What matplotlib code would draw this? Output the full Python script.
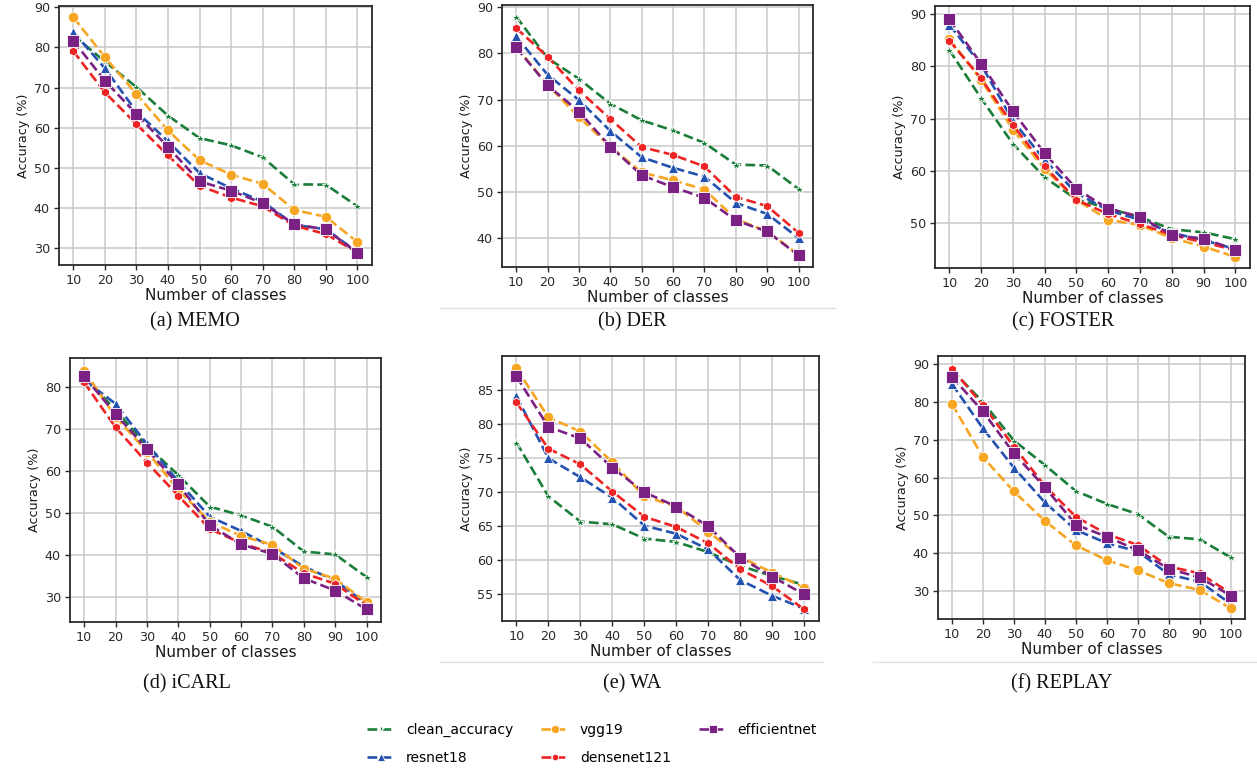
import matplotlib.pyplot as plt
from matplotlib.lines import Line2D

W, H = 1257, 773

classes = [10, 20, 30, 40, 50, 60, 70, 80, 90, 100]

models = ['clean_accuracy', 'resnet18', 'vgg19', 'densenet121', 'efficientnet']
colors = ['#1b7d3a', '#2452b0', '#f6a623', '#ee2424', '#7b2183']
markers = ['*', '^', 'o', 'h', 's']
msizes = [6.5, 6.5, 7.5, 6.5, 8.0]

# (a) MEMO
memo_clean = [83.0, 76.5, 70.1, 63.0, 57.4, 55.6, 52.6, 45.9, 45.8, 40.4]
memo_resnet = [83.9, 74.8, 64.0, 56.6, 48.7, 44.9, 41.6, 35.8, 34.7, 29.0]
memo_vgg = [87.5, 77.6, 68.4, 59.3, 51.9, 48.3, 46.0, 39.5, 37.8, 31.5]
memo_dense = [79.1, 68.8, 60.9, 53.1, 45.5, 42.6, 40.4, 35.6, 33.5, 28.9]
memo_eff = [81.7, 71.7, 63.4, 55.2, 46.6, 44.3, 41.2, 35.9, 34.7, 28.8]

# (b) DER
der_clean = [88.0, 79.0, 74.5, 69.1, 65.5, 63.3, 60.6, 55.9, 55.7, 50.6]
der_resnet = [83.7, 75.4, 69.9, 63.2, 57.5, 55.2, 53.3, 47.6, 45.2, 40.0]
der_vgg = [81.5, 73.2, 66.2, 59.8, 54.2, 52.5, 50.5, 44.1, 41.4, 36.4]
der_dense = [85.5, 79.3, 72.0, 65.8, 59.7, 58.0, 55.5, 48.9, 46.9, 41.1]
der_eff = [81.3, 73.1, 67.4, 59.8, 53.6, 51.0, 48.7, 43.8, 41.4, 36.2]

# (c) FOSTER
foster_clean = [83.1, 73.9, 65.2, 58.8, 54.6, 52.9, 51.2, 48.9, 48.3, 47.0]
foster_resnet = [87.9, 80.3, 69.6, 62.1, 55.8, 52.5, 50.7, 48.2, 46.8, 45.1]
foster_vgg = [85.2, 77.4, 67.9, 60.4, 54.5, 50.7, 49.7, 47.2, 45.6, 43.6]
foster_dense = [84.9, 77.7, 68.8, 60.9, 54.5, 51.8, 49.9, 47.8, 46.4, 44.9]
foster_eff = [89.0, 80.5, 71.4, 63.4, 56.6, 52.8, 51.3, 47.8, 47.1, 45.0]

# (d) iCARL
icarl_clean = [82.5, 74.5, 66.0, 59.0, 51.5, 49.4, 46.7, 40.8, 40.1, 34.7]
icarl_resnet = [81.7, 76.0, 66.4, 57.5, 49.1, 45.7, 41.8, 37.2, 33.9, 28.3]
icarl_vgg = [83.9, 72.9, 64.6, 55.5, 47.9, 44.5, 42.4, 36.7, 34.3, 28.7]
icarl_dense = [81.1, 70.4, 62.0, 54.1, 46.2, 42.8, 40.4, 35.6, 33.1, 27.9]
icarl_eff = [82.5, 73.6, 65.2, 56.8, 47.1, 42.5, 40.2, 34.4, 31.5, 27.0]

# (e) WA
wa_clean = [77.3, 69.4, 65.7, 65.3, 63.2, 62.7, 61.2, 59.2, 57.7, 56.4]
wa_resnet = [84.1, 75.0, 72.2, 69.2, 65.1, 63.9, 61.6, 57.1, 54.8, 52.9]
wa_vgg = [88.2, 81.0, 78.9, 74.4, 69.4, 67.9, 64.2, 60.5, 58.2, 56.0]
wa_dense = [83.2, 76.4, 74.1, 70.1, 66.4, 64.9, 62.5, 58.7, 56.2, 52.8]
wa_eff = [87.0, 79.6, 77.9, 73.6, 70.0, 67.9, 65.0, 60.4, 57.6, 55.0]

# (f) REPLAY
replay_clean = [88.5, 80.0, 69.8, 63.3, 56.4, 53.0, 50.3, 44.3, 43.6, 38.8]
replay_resnet = [84.8, 73.0, 62.6, 53.4, 46.1, 42.6, 40.4, 34.3, 32.4, 26.5]
replay_vgg = [79.5, 65.4, 56.3, 48.5, 42.0, 38.1, 35.4, 32.0, 30.2, 25.3]
replay_dense = [88.8, 79.2, 68.2, 57.8, 49.6, 45.0, 42.1, 36.4, 34.6, 29.3]
replay_eff = [86.7, 77.5, 66.4, 57.4, 47.5, 44.3, 40.7, 35.8, 33.5, 28.7]

panels = [
    ('(a) MEMO', [memo_clean, memo_resnet, memo_vgg, memo_dense, memo_eff],
     (59, 372, 6, 265), (25.8, 90.3), [30, 40, 50, 60, 70, 80, 90], 195, 322),
    ('(b) DER', [der_clean, der_resnet, der_vgg, der_dense, der_eff],
     (502, 813, 5, 267), (33.7, 90.5), [40, 50, 60, 70, 80, 90], 632, 322),
    ('(c) FOSTER', [foster_clean, foster_resnet, foster_vgg, foster_dense, foster_eff],
     (935, 1250, 6, 268), (41.5, 91.5), [50, 60, 70, 80, 90], 1063, 322),
    ('(d) iCARL', [icarl_clean, icarl_resnet, icarl_vgg, icarl_dense, icarl_eff],
     (70, 381, 358, 622), (24.0, 86.9), [30, 40, 50, 60, 70, 80], 187, 684),
    ('(e) WA', [wa_clean, wa_resnet, wa_vgg, wa_dense, wa_eff],
     (502, 819, 356, 621), (51.1, 90.0), [55, 60, 65, 70, 75, 80, 85], 632, 684),
    ('(f) REPLAY', [replay_clean, replay_resnet, replay_vgg, replay_dense, replay_eff],
     (938, 1245, 356, 619), (22.5, 92.2), [30, 40, 50, 60, 70, 80, 90], 1062, 684),
]

fig = plt.figure(figsize=(W / 100, H / 100), dpi=100)

for title, series, (l, r, t, b), ylim, yticks, cx, cy in panels:
    ax = fig.add_axes([l / W, 1 - b / H, (r - l) / W, (b - t) / H])
    for name, vals, c, m, ms in zip(models, series, colors, markers, msizes):
        ax.plot(classes, vals, linestyle='--', color=c, lw=1.9, marker=m,
                markersize=ms, markeredgecolor='white', markeredgewidth=0.6,
                label=name)
    ax.set_xlim(5.5, 104.6)
    ax.set_ylim(*ylim)
    ax.set_xticks(classes)
    ax.set_yticks(yticks)
    ax.grid(True, color='#c8c8c8', lw=1.1)
    ax.set_axisbelow(True)
    for s in ax.spines.values():
        s.set_color('#2a2a2a')
        s.set_linewidth(1.3)
    ax.tick_params(labelsize=9.2, colors='#2a2a2a', length=3.5, width=1.0, pad=3)
    ax.set_xlabel('Number of classes', fontsize=11, color='#1a1a1a', labelpad=1)
    ax.set_ylabel('Accuracy (%)', fontsize=9.2, color='#1a1a1a', labelpad=3)
    fig.text(cx / W, 1 - cy / H, title, ha='center', va='center',
             fontsize=14.5, family='Liberation Serif', color='#111111')

# faint edges of the pasted panel images
for x0, x1, y in [(440, 835, 308), (440, 823, 662), (873, 1257, 662)]:
    fig.add_artist(Line2D([x0 / W, x1 / W], [1 - y / H, 1 - y / H],
                          color='#e2e2e2', lw=1.0))

handles, labels = ax.get_legend_handles_labels()
fig.legend(handles, labels, loc='center', bbox_to_anchor=(592 / W, 1 - 744 / H),
           ncol=3, frameon=False, fontsize=10, handlelength=2.0,
           handletextpad=0.8, columnspacing=2.0, labelspacing=0.95,
           markerscale=0.8)

fig.savefig('out.png', dpi=100)
